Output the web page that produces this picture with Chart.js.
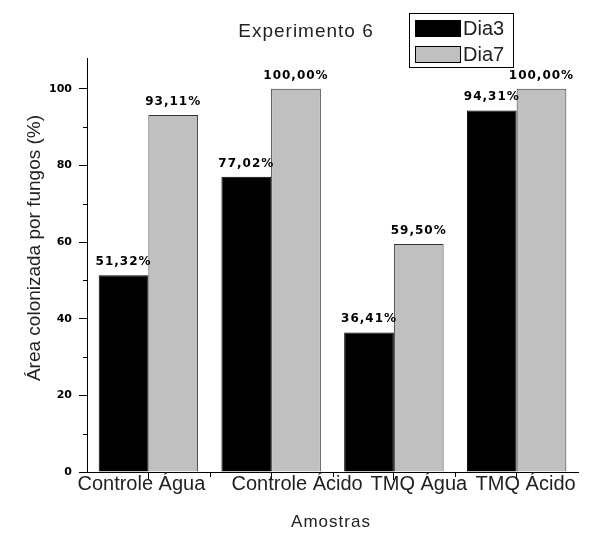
<!DOCTYPE html>
<html>
<head>
<meta charset="utf-8">
<script src="https://cdn.jsdelivr.net/npm/chart.js@4/dist/chart.umd.min.js"></script>
<style>
  html, body { margin: 0; padding: 0; background: #fff; }
</style>
</head>
<body>
<canvas id="chart" width="602" height="533"></canvas>
<script>
const categories = ["Controle Água", "Controle Ácido", "TMQ Água", "TMQ Ácido"];
const dia3 = [51.32, 77.02, 36.41, 94.31];
const dia7 = [93.11, 100.0, 59.5, 100.0];
const seriesNames = ["Dia3", "Dia7"];
const yMinorTicks = [10, 30, 50, 70, 90];
// label nudges, Origin spreads the category text to avoid overlap
const labelShift = [-7, 26, 25, 9];

const ctx = document.getElementById("chart").getContext("2d");

const extras = {
  id: "extras",
  afterDraw(chart) {
    const c = chart.ctx;
    const area = chart.chartArea;
    const xs = chart.scales.x;
    const ys = chart.scales.y;
    c.save();
    c.strokeStyle = "#000";
    c.lineWidth = 1;

    // minor ticks on y
    yMinorTicks.forEach((v) => {
      const y = Math.round(ys.getPixelForValue(v)) + 0.5;
      c.beginPath();
      c.moveTo(area.left - 4, y);
      c.lineTo(area.left, y);
      c.stroke();
    });

    // minor ticks on x, between groups
    for (let i = 0; i < categories.length - 1; i++) {
      const x = Math.round((xs.getPixelForValue(i) + xs.getPixelForValue(i + 1)) / 2) + 0.5;
      c.beginPath();
      c.moveTo(x, area.bottom);
      c.lineTo(x, area.bottom + 5);
      c.stroke();
    }

    // value labels above bars
    c.fillStyle = "#000";
    c.font = "bold 12px 'DejaVu Sans'";
    c.textAlign = "center";
    c.textBaseline = "alphabetic";
    if ("letterSpacing" in c) c.letterSpacing = "1px";
    chart.data.datasets.forEach((ds, di) => {
      const meta = chart.getDatasetMeta(di);
      meta.data.forEach((bar, i) => {
        const txt = ds.data[i].toFixed(2).replace(".", ",") + "%";
        c.fillText(txt, bar.x, bar.y - 10);
      });
    });
    if ("letterSpacing" in c) c.letterSpacing = "0px";

    // category labels
    c.fillStyle = "#222";
    c.font = "20px 'Liberation Sans'";
    c.textBaseline = "alphabetic";
    categories.forEach((lab, i) => {
      c.fillText(lab, xs.getPixelForValue(i) + labelShift[i], 490);
    });

    // axis titles
    c.font = "17px 'Liberation Sans'";
    if ("letterSpacing" in c) c.letterSpacing = "1px";
    c.textBaseline = "middle";
    c.fillText("Amostras", 331, 522);
    if ("letterSpacing" in c) c.letterSpacing = "0px";

    c.save();
    c.translate(35, 248);
    c.rotate(-Math.PI / 2);
    c.font = "19px 'Liberation Sans'";
    c.fillText("Área colonizada por fungos (%)", 0, 0);
    c.restore();

    // title
    c.font = "19px 'Liberation Sans'";
    if ("letterSpacing" in c) c.letterSpacing = "1px";
    c.fillText("Experimento 6", 306, 32);
    if ("letterSpacing" in c) c.letterSpacing = "0px";

    // legend
    c.strokeRect(409.5, 13.5, 104, 54);
    c.textAlign = "left";
    c.font = "20px 'Liberation Sans'";
    chart.data.datasets.forEach((ds, di) => {
      const top = 20 + di * 26;
      c.fillStyle = ds.backgroundColor;
      c.fillRect(415, top, 45, 16);
      c.strokeStyle = "#000";
      c.strokeRect(415.5, top + 0.5, 45, 16);
      c.fillStyle = "#222";
      c.fillText(ds.label, 463, top + 9);
    });

    c.restore();
  },
};

new Chart(ctx, {
  type: "bar",
  data: {
    labels: categories,
    datasets: [
      {
        label: seriesNames[0],
        data: dia3,
        backgroundColor: "#000000",
        borderColor: "#000000",
        borderWidth: 1,
        categoryPercentage: 0.81,
        barPercentage: 1.0,
      },
      {
        label: seriesNames[1],
        data: dia7,
        backgroundColor: "#c0c0c0",
        borderColor: "#333333",
        borderWidth: 1,
        categoryPercentage: 0.81,
        barPercentage: 1.0,
      },
    ],
  },
  options: {
    responsive: false,
    animation: false,
    devicePixelRatio: 1,
    layout: {
      padding: { left: 0, top: 58, right: 24, bottom: 0 },
    },
    scales: {
      x: {
        offset: true,
        grid: {
          offset: false,
          drawOnChartArea: false,
          drawTicks: true,
          tickLength: 8,
          tickColor: "#000",
        },
        border: { color: "#000", width: 1 },
        ticks: { display: false },
        afterFit: (scale) => {
          scale.height = 61;
        },
      },
      y: {
        min: 0,
        max: 108,
        grid: {
          drawOnChartArea: false,
          drawTicks: true,
          tickLength: 8,
          tickColor: "#000",
        },
        border: { color: "#000", width: 1 },
        ticks: {
          stepSize: 20,
          includeBounds: false,
          padding: 7,
          color: "#000",
          font: { family: "DejaVu Sans", size: 11, weight: "bold" },
        },
        afterFit: (scale) => {
          scale.width = 87;
        },
      },
    },
    plugins: {
      legend: { display: false },
      title: { display: false },
      tooltip: { enabled: false },
    },
  },
  plugins: [extras],
});
</script>
</body>
</html>
